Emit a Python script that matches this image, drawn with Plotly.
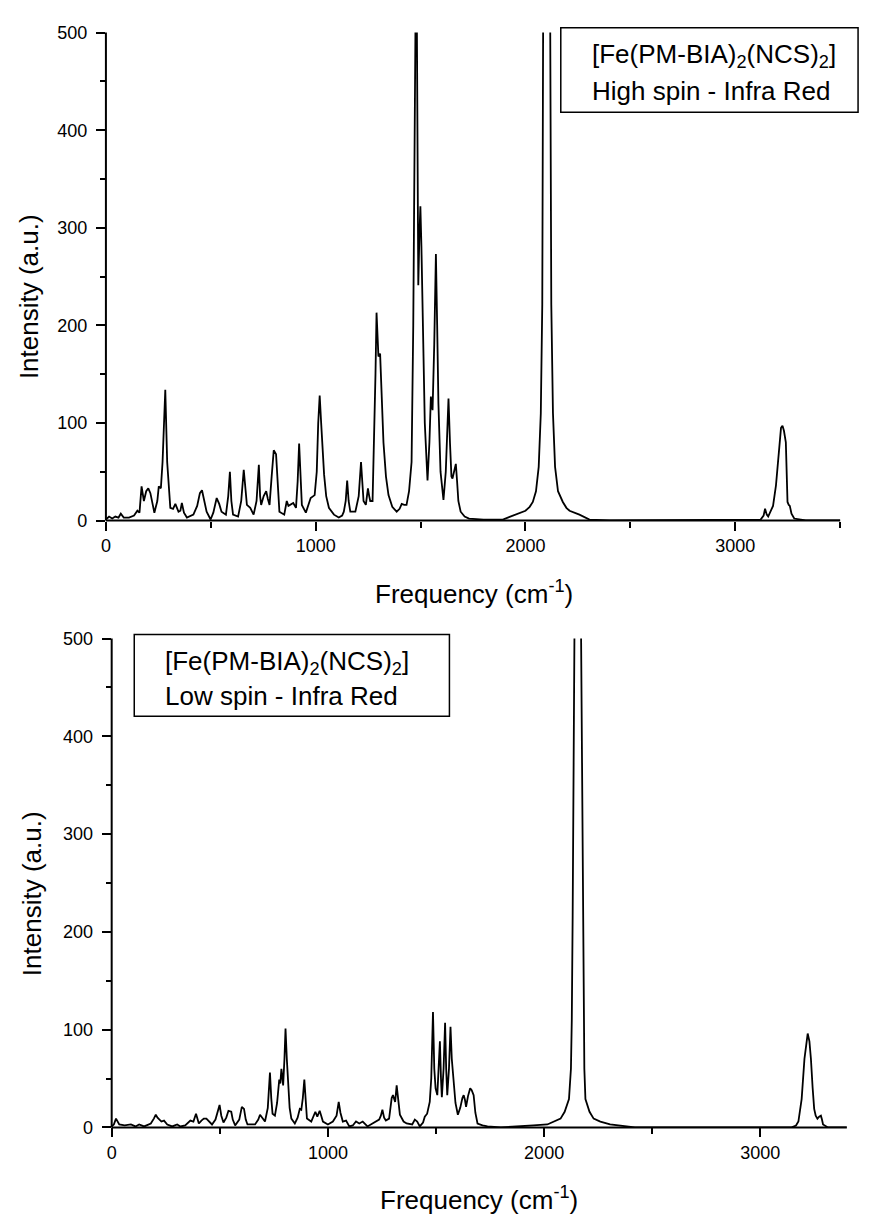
import plotly.graph_objects as go

# ---------------- data ----------------
hs_freq = [0, 15, 30, 45, 60, 71, 85, 110, 134, 150, 160, 170, 181, 192, 202, 212, 231, 245, 252, 262,
           270, 283, 292, 299, 307, 320, 331, 346, 355, 362, 372, 386, 400, 417, 435, 448, 458, 468, 480, 499,
           512, 528, 540, 551, 572, 583, 591, 598, 606, 630, 645, 657, 664, 672, 688, 704, 718, 729, 735, 740,
           752, 764, 772, 780, 790, 800, 811, 818, 827, 850, 862, 870, 877, 893, 906, 914, 921, 927, 934, 953,
           965, 976, 995, 1005, 1012, 1019, 1026, 1033, 1040, 1050, 1063, 1087, 1110, 1126, 1134, 1143, 1150,
           1157, 1165, 1189, 1205, 1216, 1222, 1228, 1239, 1249, 1255, 1260, 1271, 1280, 1285, 1290, 1295,
           1299, 1307, 1315, 1323, 1335, 1347, 1365, 1386, 1400, 1410, 1422, 1433, 1445, 1457, 1465, 1472,
           1476, 1482, 1486, 1489, 1494, 1499, 1504, 1510, 1520, 1533, 1542, 1549, 1553, 1557, 1565, 1573,
           1579, 1585, 1595, 1609, 1620, 1628, 1633, 1640, 1647, 1652, 1660, 1668, 1674, 1680, 1691, 1710,
           1731, 1800, 1892, 1948, 2000, 2020, 2035, 2050, 2063, 2073, 2080, 2084, 2085, 2117, 2118, 2123,
           2131, 2141, 2155, 2178, 2195, 2210, 2257, 2305, 2400, 3121, 3135, 3142, 3150, 3157, 3180, 3194,
           3210, 3218, 3225, 3232, 3241, 3246, 3249, 3255, 3260, 3268, 3281, 3336, 3500]
hs_int = [1, 4, 2, 4, 3, 7, 3, 3, 5, 10, 8, 35, 20, 30, 33, 28, 8, 20, 35, 33,
          60, 134, 60, 33, 13, 12, 17, 9, 10, 18, 8, 3, 4, 6, 15, 28, 31, 20, 9, 1,
          8, 23, 17, 9, 6, 25, 50, 20, 6, 4, 20, 52, 30, 16, 13, 6, 20, 57, 25, 16,
          25, 30, 22, 16, 45, 72, 68, 40, 9, 6, 20, 15, 16, 18, 13, 40, 79, 40, 16, 8,
          15, 23, 26, 50, 100, 128, 100, 65, 47, 25, 13, 6, 3, 5, 9, 20, 41,
          20, 9, 9, 25, 60, 40, 20, 16, 33, 25, 20, 20, 87, 150, 213, 180,
          168, 171, 130, 80, 45, 26, 14, 9, 12, 17, 16, 16, 30, 60, 200, 450,
          520, 520, 300, 241, 290, 322, 280, 200, 100, 41, 80, 127, 120, 113, 180, 273,
          200, 120, 50, 21, 50, 100, 125, 80, 45, 43, 52, 58, 40, 20, 9, 4,
          2, 1, 1, 6, 10, 14, 19, 30, 55, 110, 221, 500, 530, 530, 500, 221,
          110, 55, 30, 19, 13, 10, 6, 1, 0, 1, 5, 12, 6, 4, 15, 36,
          80, 95, 97, 92, 80, 40, 19, 16, 15, 7, 2, 0, 0]

ls_freq = [0, 10, 20, 28, 35, 60, 89, 110, 127, 150, 181, 195, 204, 212, 219, 230, 242, 257, 280, 303,
           318, 340, 364, 378, 390, 397, 403, 415, 426, 438, 450, 464, 480, 492, 499, 507, 517, 530, 540, 553,
           560, 571, 590, 602, 612, 620, 628, 663, 678, 686, 697, 709, 722, 732, 738, 744, 755, 765, 775, 780,
           785, 793, 799, 804, 810, 816, 823, 831, 847, 860, 870, 877, 884, 891, 897, 903, 923, 935, 942, 951,
           962, 969, 977, 1000, 1023, 1040, 1050, 1058, 1069, 1084, 1099, 1115, 1130, 1145, 1161, 1183, 1222,
           1237, 1245, 1252, 1260, 1268, 1283, 1295, 1301, 1311, 1318, 1324, 1333, 1350, 1364, 1390, 1402,
           1413, 1425, 1440, 1448, 1459, 1471, 1478, 1486, 1492, 1498, 1506, 1512, 1518, 1523, 1527, 1535,
           1542, 1547, 1552, 1560, 1567, 1573, 1582, 1590, 1601, 1612, 1622, 1628, 1634, 1639, 1648, 1658,
           1665, 1674, 1682, 1692, 1715, 1738, 1800, 1900, 1950, 2015, 2050, 2076, 2095, 2115, 2124, 2128,
           2132, 2140, 2141, 2170, 2171, 2179, 2183, 2186, 2191, 2210, 2229, 2260, 2305, 2366, 2420, 3145,
           3165, 3176, 3191, 3204, 3212, 3219, 3227, 3234, 3242, 3249, 3256, 3264, 3272, 3280, 3285, 3290,
           3313, 3400]
ls_int = [1, 3, 9, 5, 3, 2, 3, 1, 3, 1, 4, 9, 13, 10, 8, 6, 7, 3, 1, 3,
          1, 2, 7, 6, 14, 8, 4, 7, 9, 9, 6, 3, 8, 18, 23, 12, 5, 10, 17, 16,
          8, 2, 8, 21, 19, 8, 3, 3, 8, 13, 10, 6, 20, 56, 30, 14, 12, 25, 49, 45,
          60, 43, 70, 101, 70, 43, 20, 9, 4, 10, 19, 18, 30, 49, 25, 9, 6, 12, 16, 11,
          17, 12, 6, 3, 6, 12, 26, 15, 6, 7, 1, 2, 6, 4, 6, 1, 6,
          8, 12, 18, 10, 7, 9, 30, 33, 26, 43, 30, 13, 6, 4, 3, 8,
          6, 1, 5, 11, 14, 26, 50, 118, 60, 40, 33, 60, 88, 50, 31, 60,
          107, 60, 33, 60, 103, 70, 43, 25, 13, 20, 30, 33, 28, 21, 32, 40,
          38, 33, 15, 4, 2, 1, 0, 1, 2, 3, 6, 9, 16, 29, 60, 110,
          217, 500, 530, 530, 500, 217, 110, 60, 29, 16, 9, 6, 3, 1, 0, 0,
          2, 6, 29, 70, 88, 96, 88, 70, 40, 19, 12, 9, 11, 12, 8, 3,
          0, 0]

x_title = "Frequency (cm<sup>-1</sup>)"
y_title = "Intensity (a.u.)"
hs_label = ["[Fe(PM-BIA)<sub>2</sub>(NCS)<sub>2</sub>]", "High spin - Infra Red"]
ls_label = ["[Fe(PM-BIA)<sub>2</sub>(NCS)<sub>2</sub>]", "Low spin - Infra Red"]

# ---------------- layout helpers ----------------
W, H = 869, 1222
FONT = "Liberation Sans, Arial, sans-serif"


def px(x):
    return x / W


def py(y):
    return 1 - y / H


fig = go.Figure()
fig.add_trace(go.Scatter(x=hs_freq, y=hs_int, mode="lines", xaxis="x", yaxis="y",
                         line=dict(color="black", width=1.8), showlegend=False))
fig.add_trace(go.Scatter(x=ls_freq, y=ls_int, mode="lines", xaxis="x2", yaxis="y2",
                         line=dict(color="black", width=1.8), showlegend=False))

axis_common = dict(showline=False, showgrid=False, zeroline=False,
                   ticks="outside", ticklen=9, tickwidth=1.5, tickcolor="black",
                   tickfont=dict(family=FONT, size=18, color="black"))

minor_x = dict(dtick=500, ticklen=6, tickwidth=1.5, tickcolor="black", ticks="outside", showgrid=False)
minor_y = dict(dtick=50, ticklen=5, tickwidth=1.5, tickcolor="black", ticks="outside", showgrid=False)

fig.update_layout(
    width=W, height=H, autosize=False,
    margin=dict(l=0, r=0, t=0, b=0, pad=0),
    paper_bgcolor="white", plot_bgcolor="white",
    xaxis=dict(domain=[px(101.5), px(840)], range=[0, 3500], anchor="y", dtick=1000, tick0=0,
               minor=minor_x, **axis_common),
    yaxis=dict(domain=[py(519), py(23)], range=[0, 500], anchor="x", dtick=100, tick0=0,
               minor=minor_y, ticklabelstandoff=5, **axis_common),
    xaxis2=dict(domain=[px(107.3), px(846.7)], range=[0, 3400], anchor="y2", dtick=1000, tick0=0,
                minor=minor_x, **axis_common),
    yaxis2=dict(domain=[py(1136), py(639)], range=[0, 500], anchor="x2", dtick=100, tick0=0,
                minor=minor_y, ticklabelstandoff=5, **axis_common),
)

title_font = dict(family=FONT, size=26, color="black")
label_font = dict(family=FONT, size=26, color="black")

annotations = [
    dict(text=x_title, x=px(472), y=py(592), xref="paper", yref="paper",
         xanchor="center", yanchor="middle", showarrow=False, font=title_font),
    dict(text=x_title, x=px(477), y=py(1208), xref="paper", yref="paper",
         xanchor="center", yanchor="middle", showarrow=False, font=title_font),
    dict(text=y_title, x=px(24), y=py(291), xref="paper", yref="paper", textangle=-90,
         xanchor="center", yanchor="middle", showarrow=False, font=title_font),
    dict(text=y_title, x=px(27), y=py(898), xref="paper", yref="paper", textangle=-90,
         xanchor="center", yanchor="middle", showarrow=False, font=title_font),
    dict(text=hs_label[0], x=px(588), y=py(46), xref="paper", yref="paper",
         xanchor="left", yanchor="middle", showarrow=False, font=label_font),
    dict(text=hs_label[1], x=px(588), y=py(82), xref="paper", yref="paper",
         xanchor="left", yanchor="middle", showarrow=False, font=label_font),
    dict(text=ls_label[0], x=px(159), y=py(663), xref="paper", yref="paper",
         xanchor="left", yanchor="middle", showarrow=False, font=label_font),
    dict(text=ls_label[1], x=px(159), y=py(697), xref="paper", yref="paper",
         xanchor="left", yanchor="middle", showarrow=False, font=label_font),
]
fig.update_layout(annotations=annotations)

axis_line = dict(color="black", width=2)
shapes = [
    dict(type="rect", xref="paper", yref="paper", x0=px(559), x1=px(858), y0=py(104), y1=py(18),
         line=dict(color="black", width=1.5), fillcolor="rgba(0,0,0,0)"),
    dict(type="rect", xref="paper", yref="paper", x0=px(130), x1=px(447), y0=py(718), y1=py(635),
         line=dict(color="black", width=1.5), fillcolor="rgba(0,0,0,0)"),
]
# axis lines (left and bottom) of both panels, placed in each subplot's domain
for xa, ya in (("x", "y"), ("x2", "y2")):
    shapes.append(dict(type="line", xref=f"{xa} domain", yref=f"{ya} domain",
                       x0=0, x1=0, y0=0, y1=1, line=axis_line, layer="above"))
    shapes.append(dict(type="line", xref=f"{xa} domain", yref=f"{ya} domain",
                       x0=0, x1=1, y0=0, y1=0, line=axis_line, layer="above"))
fig.update_layout(shapes=shapes)

fig.write_html("out.html")
